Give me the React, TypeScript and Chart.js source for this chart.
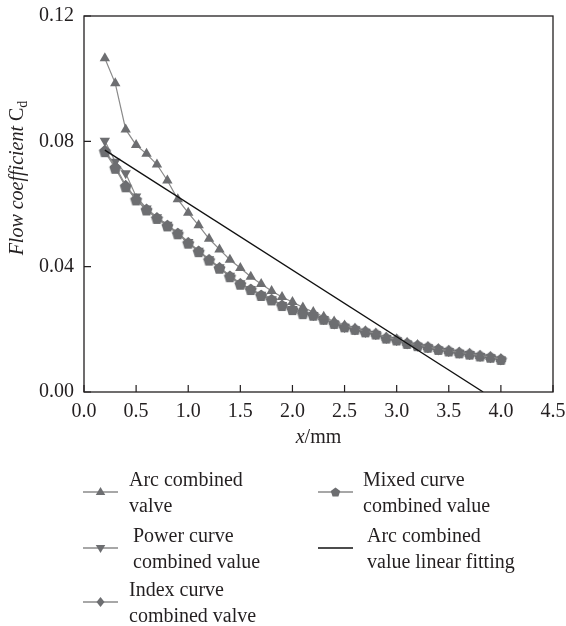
import React, { useEffect, useRef } from "react";
import { Chart, registerables } from "chart.js";

Chart.register(...registerables);

// ---------- data ----------
const xValues = [0.2, 0.3, 0.4, 0.5, 0.6, 0.7, 0.8, 0.9, 1.0, 1.1, 1.2, 1.3, 1.4, 1.5, 1.6, 1.7, 1.8, 1.9, 2.0, 2.1, 2.2, 2.3, 2.4, 2.5, 2.6, 2.7, 2.8, 2.9, 3.0, 3.1, 3.2, 3.3, 3.4, 3.5, 3.6, 3.7, 3.8, 3.9, 4.0];

const arcValues = [0.1065, 0.0985, 0.0838, 0.0788, 0.0760, 0.0726, 0.0675, 0.0615, 0.0572, 0.0532, 0.0489, 0.0455, 0.0422, 0.0396, 0.0368, 0.0345, 0.0322, 0.0303, 0.0287, 0.0270, 0.0255, 0.0240, 0.0225, 0.0212, 0.0203, 0.0194, 0.0187, 0.0174, 0.0168, 0.0157, 0.0150, 0.0144, 0.0137, 0.0132, 0.0126, 0.0122, 0.0116, 0.0112, 0.0105];

const powerValues = [0.0802, 0.0735, 0.0698, 0.0624, 0.0586, 0.0558, 0.0534, 0.0508, 0.0479, 0.0451, 0.0424, 0.0398, 0.0371, 0.0347, 0.0329, 0.0310, 0.0296, 0.0278, 0.0265, 0.0252, 0.0246, 0.0233, 0.0219, 0.0208, 0.0200, 0.0192, 0.0185, 0.0172, 0.0166, 0.0155, 0.0148, 0.0143, 0.0136, 0.0131, 0.0125, 0.0121, 0.0115, 0.0111, 0.0104];

const indexValues = [0.0772, 0.0720, 0.0660, 0.0617, 0.0584, 0.0557, 0.0532, 0.0507, 0.0477, 0.0450, 0.0423, 0.0397, 0.0370, 0.0346, 0.0328, 0.0309, 0.0295, 0.0277, 0.0264, 0.0251, 0.0245, 0.0232, 0.0218, 0.0207, 0.0199, 0.0191, 0.0184, 0.0172, 0.0165, 0.0155, 0.0147, 0.0142, 0.0136, 0.0130, 0.0125, 0.0120, 0.0115, 0.0110, 0.0104];

const mixedValues = [0.0767, 0.0714, 0.0655, 0.0613, 0.0581, 0.0554, 0.0530, 0.0505, 0.0475, 0.0448, 0.0421, 0.0395, 0.0368, 0.0344, 0.0327, 0.0308, 0.0294, 0.0276, 0.0263, 0.0250, 0.0245, 0.0232, 0.0219, 0.0208, 0.0200, 0.0192, 0.0185, 0.0172, 0.0166, 0.0155, 0.0148, 0.0143, 0.0136, 0.0131, 0.0125, 0.0121, 0.0115, 0.0111, 0.0104];

const fitX = [0.2, 3.83];
const fitY = [0.0772, 0.0];

const xTicks = [0, 0.5, 1.0, 1.5, 2.0, 2.5, 3.0, 3.5, 4.0, 4.5];
const yTicks = [0, 0.04, 0.08, 0.12];

const legendArc = ["Arc combined", "valve"];
const legendPower = ["Power curve", "combined value"];
const legendIndex = ["Index curve", "combined valve"];
const legendMixed = ["Mixed curve", "combined value"];
const legendFit = ["Arc combined", "value linear fitting"];

const yTitleItalic = "Flow coefficient ";
const yTitleMain = "C";
const yTitleSub = "d";
const xTitleItalic = "x";
const xTitleMain = "/mm";

// ---------- styles ----------
const FONT = "'Liberation Serif', 'DejaVu Serif', serif";
const TEXT = "#231f20";
const MARK = "#6d6e71";
const LINE = "#8a8a8a";

function makePentagon(r: number): HTMLCanvasElement {
  const size = Math.ceil(r * 2 + 2);
  const c = document.createElement("canvas");
  c.width = size;
  c.height = size;
  const g = c.getContext("2d")!;
  g.fillStyle = MARK;
  g.beginPath();
  for (let i = 0; i < 5; i++) {
    const a = -Math.PI / 2 + (i * 2 * Math.PI) / 5;
    const px = size / 2 + r * Math.cos(a);
    const py = size / 2 + r * Math.sin(a) + 0.5;
    if (i === 0) g.moveTo(px, py);
    else g.lineTo(px, py);
  }
  g.closePath();
  g.fill();
  return c;
}

function drawMarker(ctx: CanvasRenderingContext2D, style: string, x: number, y: number, r: number) {
  ctx.fillStyle = MARK;
  ctx.beginPath();
  if (style === "tri") {
    ctx.moveTo(x, y - r);
    ctx.lineTo(x + r * 0.95, y + r * 0.6);
    ctx.lineTo(x - r * 0.95, y + r * 0.6);
  } else if (style === "triDown") {
    ctx.moveTo(x, y + r);
    ctx.lineTo(x + r * 0.95, y - r * 0.6);
    ctx.lineTo(x - r * 0.95, y - r * 0.6);
  } else if (style === "diamond") {
    ctx.moveTo(x, y - r);
    ctx.lineTo(x + r * 0.8, y);
    ctx.lineTo(x, y + r);
    ctx.lineTo(x - r * 0.8, y);
  } else if (style === "pent") {
    for (let i = 0; i < 5; i++) {
      const a = -Math.PI / 2 + (i * 2 * Math.PI) / 5;
      const px = x + r * Math.cos(a);
      const py = y + r * Math.sin(a) + 0.5;
      if (i === 0) ctx.moveTo(px, py);
      else ctx.lineTo(px, py);
    }
  }
  ctx.closePath();
  ctx.fill();
}

const decorPlugin = {
  id: "decor",
  afterDraw(chart: any) {
    const { ctx, chartArea: a, scales } = chart;
    ctx.save();
    // frame
    ctx.strokeStyle = TEXT;
    ctx.lineWidth = 1.3;
    ctx.strokeRect(a.left, a.top, a.right - a.left, a.bottom - a.top);
    // inward ticks
    ctx.lineWidth = 1.2;
    ctx.beginPath();
    xTicks.forEach((v) => {
      const px = scales.x.getPixelForValue(v);
      ctx.moveTo(px, a.bottom);
      ctx.lineTo(px, a.bottom - 7);
    });
    yTicks.forEach((v) => {
      const py = scales.y.getPixelForValue(v);
      ctx.moveTo(a.left, py);
      ctx.lineTo(a.left + 7, py);
    });
    ctx.stroke();

    // y title
    ctx.fillStyle = TEXT;
    ctx.textBaseline = "middle";
    ctx.textAlign = "left";
    const italicFont = `italic 20px ${FONT}`;
    const mainFont = `20px ${FONT}`;
    const subFont = `14px ${FONT}`;
    ctx.font = italicFont;
    const w1 = ctx.measureText(yTitleItalic).width;
    ctx.font = mainFont;
    const w2 = ctx.measureText(yTitleMain).width;
    ctx.font = subFont;
    const w3 = ctx.measureText(yTitleSub).width;
    const W = w1 + w2 + w3;
    ctx.save();
    ctx.translate(18, 178);
    ctx.rotate(-Math.PI / 2);
    let sx = -W / 2;
    ctx.font = italicFont;
    ctx.fillText(yTitleItalic, sx, 0);
    sx += w1;
    ctx.font = mainFont;
    ctx.fillText(yTitleMain, sx, 0);
    sx += w2;
    ctx.font = subFont;
    ctx.fillText(yTitleSub, sx, 5);
    ctx.restore();

    // x title
    ctx.font = italicFont;
    const xw1 = ctx.measureText(xTitleItalic).width;
    ctx.font = mainFont;
    const xw2 = ctx.measureText(xTitleMain).width;
    const cx = (a.left + a.right) / 2;
    const tx = cx - (xw1 + xw2) / 2;
    ctx.font = italicFont;
    ctx.fillText(xTitleItalic, tx, 438);
    ctx.font = mainFont;
    ctx.fillText(xTitleMain, tx + xw1, 438);

    // legend
    const items = [
      { lx: 83, ly: 492, tx: 129, lines: legendArc, style: "tri" },
      { lx: 83, ly: 548, tx: 133, lines: legendPower, style: "triDown" },
      { lx: 83, ly: 602, tx: 129, lines: legendIndex, style: "diamond" },
      { lx: 318, ly: 492, tx: 363, lines: legendMixed, style: "pent" },
      { lx: 318, ly: 548, tx: 367, lines: legendFit, style: "fit" },
    ];
    items.forEach((it) => {
      ctx.beginPath();
      ctx.strokeStyle = it.style === "fit" ? "#111" : LINE;
      ctx.lineWidth = it.style === "fit" ? 1.3 : 1.5;
      ctx.moveTo(it.lx, it.ly);
      ctx.lineTo(it.lx + 35, it.ly);
      ctx.stroke();
      if (it.style !== "fit") drawMarker(ctx, it.style, it.lx + 17.5, it.ly, 5);
      ctx.fillStyle = TEXT;
      ctx.font = mainFont;
      ctx.textBaseline = "middle";
      ctx.fillText(it.lines[0], it.tx, it.ly - 11);
      ctx.fillText(it.lines[1], it.tx, it.ly + 15);
    });
    ctx.restore();
  },
};

export default function App() {
  const ref = useRef<HTMLCanvasElement | null>(null);
  useEffect(() => {
    document.body.style.margin = "0";
    if (!ref.current) return;
    const pent = makePentagon(6.3);
    const toPts = (ys: number[]) => xValues.map((x, i) => ({ x, y: ys[i] }));
    const base = {
      borderColor: LINE,
      borderWidth: 1.2,
      pointBackgroundColor: MARK,
      pointBorderColor: MARK,
      pointBorderWidth: 0,
      tension: 0,
      fill: false,
    };
    const chart = new Chart(ref.current, {
      type: "line",
      data: {
        datasets: [
          { ...base, label: "Arc combined valve", data: toPts(arcValues), pointStyle: "triangle", pointRadius: 6, order: 1 },
          { ...base, label: "Power curve combined value", data: toPts(powerValues), pointStyle: "triangle", pointRotation: 180, pointRadius: 6, order: 4 },
          { ...base, label: "Index curve combined valve", data: toPts(indexValues), pointStyle: "rectRot", pointRadius: 5.5, order: 3 },
          { ...base, label: "Mixed curve combined value", data: toPts(mixedValues), pointStyle: pent as any, order: 2 },
          {
            label: "Arc combined value linear fitting",
            data: fitX.map((x, i) => ({ x, y: fitY[i] })),
            borderColor: "#111",
            borderWidth: 1.3,
            pointRadius: 0,
            order: 0,
          },
        ],
      },
      options: {
        animation: false,
        responsive: false,
        devicePixelRatio: 1,
        layout: { padding: { top: 16, right: 13, left: 0, bottom: 0 } },
        plugins: { legend: { display: false }, tooltip: { enabled: false } },
        scales: {
          x: {
            type: "linear",
            min: 0,
            max: 4.5,
            grid: { display: false, drawTicks: false },
            border: { display: false },
            ticks: {
              stepSize: 0.5,
              autoSkip: false,
              maxRotation: 0,
              padding: 8,
              color: TEXT,
              font: { family: FONT, size: 20 },
              callback: (v: any) => Number(v).toFixed(1),
            },
            afterFit: (s: any) => {
              s.height = 234;
              s.paddingLeft = 0;
              s.paddingRight = 0;
            },
          },
          y: {
            type: "linear",
            min: 0,
            max: 0.12,
            grid: { display: false, drawTicks: false },
            border: { display: false },
            ticks: {
              stepSize: 0.04,
              padding: 10,
              color: TEXT,
              font: { family: FONT, size: 20 },
              callback: (v: any) => Number(v).toFixed(2),
            },
            afterFit: (s: any) => {
              s.width = 84;
              s.paddingTop = 0;
              s.paddingBottom = 0;
            },
          },
        },
      },
      plugins: [decorPlugin],
    } as any);
    return () => chart.destroy();
  }, []);
  return (
    <div style={{ width: 566, height: 626 }}>
      <canvas ref={ref} width={566} height={626} style={{ display: "block" }} />
    </div>
  );
}
